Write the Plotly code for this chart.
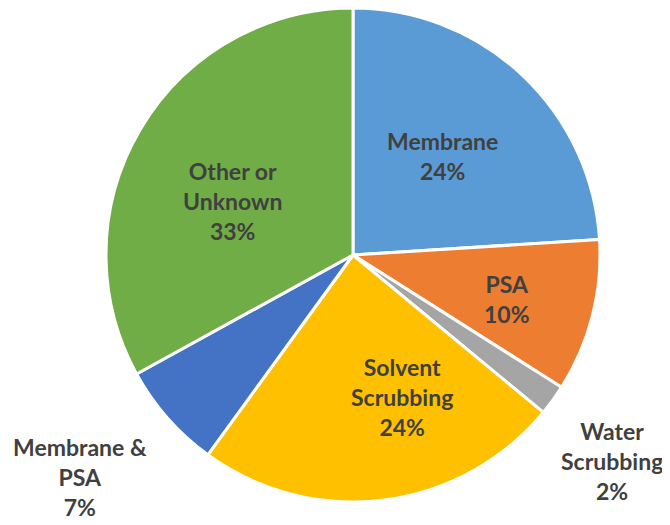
import plotly.graph_objects as go

categories = ["Membrane", "PSA", "Water Scrubbing", "Solvent Scrubbing", "Membrane & PSA", "Other or Unknown"]
label_lines = ["Membrane", "PSA", "Water<br>Scrubbing", "Solvent<br>Scrubbing", "Membrane &<br>PSA", "Other or<br>Unknown"]
values = [24, 10, 2, 24, 7, 33]
colors = ["#5B9BD5", "#ED7D31", "#A5A5A5", "#FFC000", "#4472C4", "#70AD47"]

# label block centres in page pixels (layout, not data)
label_pos = [(442, 156), (507, 299), (612, 461), (402, 397), (80, 477), (232, 201)]

OFF = 8  # default page body margin
W, H = 670 - OFF, 525 - OFF
cx, cy, r = 353 - OFF, 255 - OFF, 247

fig = go.Figure(go.Pie(
    labels=categories,
    values=values,
    textinfo="none",
    sort=False,
    direction="clockwise",
    rotation=0,
    marker=dict(colors=colors, line=dict(color="white", width=3)),
    showlegend=False,
    automargin=False,
    hovertemplate="%{label}: %{percent:.0%}<extra></extra>",
    domain=dict(x=[(cx - r) / W, (cx + r) / W], y=[max(0, (H - cy - r) / H), min(1, (H - cy + r) / H)]),
))

total = sum(values)
for name, v, (px, py) in zip(label_lines, values, label_pos):
    fig.add_annotation(
        x=(px - OFF) / W, y=1 - (py - OFF) / H,
        xref="paper", yref="paper",
        xanchor="center", yanchor="middle",
        text=f"{name}<br>{v / total * 100:.0f}%",
        showarrow=False,
        align="center",
        font=dict(family="Lato", size=23, color="#404040", weight="bold"),
    )

fig.update_layout(
    width=W, height=H,
    margin=dict(l=0, r=0, t=0, b=0),
    paper_bgcolor="white",
    plot_bgcolor="white",
)

fig.write_html("out.html")
